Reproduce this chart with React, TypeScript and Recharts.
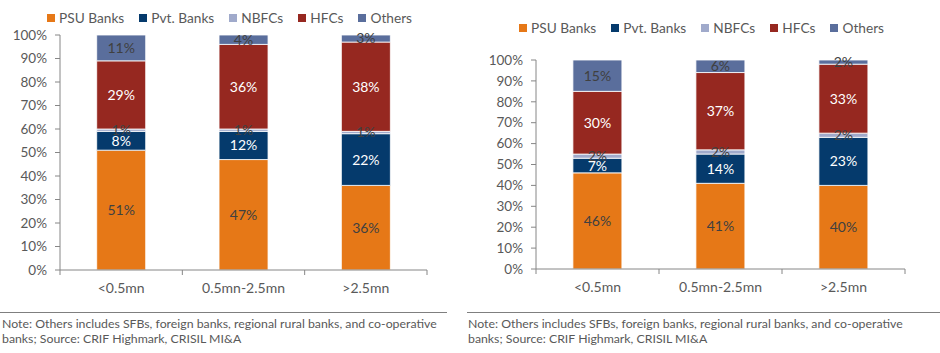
import React from 'react';
import { BarChart, Bar, XAxis, YAxis, LabelList } from 'recharts';

const categories = ['<0.5mn', '0.5mn-2.5mn', '>2.5mn'];
const seriesNames = ['PSU Banks', 'Pvt. Banks', 'NBFCs', 'HFCs', 'Others'];
const seriesKeys = ['psu', 'pvt', 'nbfc', 'hfc', 'others'];
const seriesColors = ['#E67817', '#053A6C', '#A0AACB', '#962820', '#5A6E9C'];
const labelColors = ['#404040', '#FFFFFF', '#404040', '#FFFFFF', '#404040'];

const leftPSU = [51, 47, 36];
const leftPvt = [8, 12, 22];
const leftNBFC = [1, 1, 1];
const leftHFC = [29, 36, 38];
const leftOthers = [11, 4, 3];

const rightPSU = [46, 41, 40];
const rightPvt = [7, 14, 23];
const rightNBFC = [2, 2, 2];
const rightHFC = [30, 37, 33];
const rightOthers = [15, 6, 2];

const yTicks = [0, 10, 20, 30, 40, 50, 60, 70, 80, 90, 100];
const noteLine1 = 'Note: Others includes SFBs, foreign banks, regional rural banks, and co-operative';
const noteLine2 = 'banks; Source: CRIF Highmark, CRISIL MI&A';

const FONT = 'Lato, "Open Sans", sans-serif';
const TEXT = '#595959';
const AXIS = '#868686';

const build = (a: number[], b: number[], c: number[], d: number[], e: number[]) =>
  categories.map((cat, i) => ({ cat, psu: a[i], pvt: b[i], nbfc: c[i], hfc: d[i], others: e[i] }));

const leftData = build(leftPSU, leftPvt, leftNBFC, leftHFC, leftOthers);
const rightData = build(rightPSU, rightPvt, rightNBFC, rightHFC, rightOthers);

const XTick = (props: any) => {
  const { x, y, payload, index, visibleTicksCount, width } = props;
  const band = width / visibleTicksCount;
  const y0 = y - 13;
  return (
    <g>
      <line x1={x - band / 2} x2={x - band / 2} y1={y0} y2={y0 + 5} stroke={AXIS} strokeWidth={1} />
      {index === visibleTicksCount - 1 && (
        <line x1={x + band / 2} x2={x + band / 2} y1={y0} y2={y0 + 5} stroke={AXIS} strokeWidth={1} />
      )}
      <text x={x} y={y} dy="0.71em" textAnchor="middle" fill={TEXT} fontSize={14} fontFamily={FONT}>
        {payload.value}
      </text>
    </g>
  );
};

const Legend = ({ left, top }: { left: number; top: number }) => (
  <div style={{ position: 'absolute', left, top, display: 'flex', alignItems: 'center', fontFamily: FONT, fontSize: 13.7, color: TEXT, whiteSpace: 'nowrap', lineHeight: '16px' }}>
    {seriesNames.map((n, i) => (
      <div key={n} style={{ display: 'flex', alignItems: 'center', marginRight: 15 }}>
        <span style={{ display: 'inline-block', width: 8, height: 8, background: seriesColors[i], marginRight: 4 }} />
        <span>{n}</span>
      </div>
    ))}
  </div>
);

const Chart = ({ data, width, height, margin, yWidth }: any) => (
  <BarChart width={width} height={height} data={data} margin={margin} barCategoryGap="30%">
    <XAxis
      dataKey="cat"
      height={30}
      stroke={AXIS}
      tickLine={false}
      tickSize={5}
      tickMargin={8}
      tick={<XTick />}
      interval={0}
    />
    <YAxis
      width={yWidth}
      domain={[0, 100]}
      ticks={yTicks}
      tickFormatter={(v: number) => `${v}%`}
      stroke={AXIS}
      tickSize={5}
      tickMargin={8}
      tick={{ fill: TEXT, fontSize: 13.5, fontFamily: FONT }}
      interval={0}
    />
    {seriesKeys.map((k, i) => (
      <Bar key={k} dataKey={k} stackId="a" fill={seriesColors[i]} stroke="#FFFFFF" strokeWidth={0.8} isAnimationActive={false}>
        <LabelList
          dataKey={k}
          position="center"
          formatter={(v: any) => `${v}%`}
          fill={labelColors[i]}
          fontSize={14}
          fontFamily={FONT}
        />
      </Bar>
    ))}
  </BarChart>
);

const Note = ({ left, lineLeft, lineWidth }: { left: number; lineLeft: number; lineWidth: number }) => (
  <>
    <div style={{ position: 'absolute', left: lineLeft, top: 312, width: lineWidth, height: 0, borderTop: '1.5px solid #7F7F7F' }} />
    <div style={{ position: 'absolute', left, top: 316, fontFamily: FONT, fontSize: 12.3, lineHeight: '15px', color: TEXT, whiteSpace: 'nowrap' }}>
      <div>{noteLine1}</div>
      <div>{noteLine2}</div>
    </div>
  </>
);

export default function App() {
  return (
    <div style={{ position: 'absolute', left: 0, top: 0, width: 940, height: 353, background: '#FFFFFF', overflow: 'hidden' }}>
      <div style={{ position: 'absolute', left: 0, top: 0 }}>
        <Chart data={leftData} width={450} height={300} margin={{ top: 35, right: 23, left: 0, bottom: 0 }} yWidth={60} />
      </div>
      <Legend left={47} top={10} />
      <div style={{ position: 'absolute', left: 460, top: 0 }}>
        <Chart data={rightData} width={460} height={299} margin={{ top: 60, right: 15, left: 0, bottom: 0 }} yWidth={76} />
      </div>
      <Legend left={519} top={20} />
      <Note left={2} lineLeft={0} lineWidth={447} />
      <Note left={468} lineLeft={467} lineWidth={473} />
    </div>
  );
}
